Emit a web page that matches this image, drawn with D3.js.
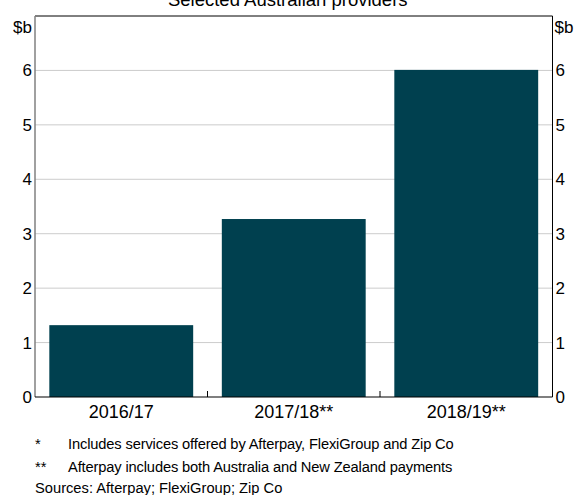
<!DOCTYPE html>
<html><head><meta charset="utf-8">
<script src="https://cdn.jsdelivr.net/npm/d3@7"></script>
<style>body{margin:0;background:#fff}svg{display:block;font-family:Arial,"Liberation Sans",sans-serif}</style>
</head><body>
<svg id="c" width="576" height="495"></svg>
<script>
const categories = ["2016/17", "2017/18**", "2018/19**"];
const values = [1.32, 3.27, 6.01];
const yTicks = [0, 1, 2, 3, 4, 5, 6];
const title = "Selected Australian providers";
const unit = "$b";
const notes = [
  ["*", "Includes services offered by Afterpay, FlexiGroup and Zip Co"],
  ["**", "Afterpay includes both Australia and New Zealand payments"]
];
const sources = "Sources: Afterpay; FlexiGroup; Zip Co";

const FONT = "Arial, 'Liberation Sans', sans-serif";
const svg = d3.select("#c");
const L = 35, R = 552.5, T = 16, B = 397;
const x = d3.scaleBand().domain(categories).range([L, R]).paddingInner(0.166).paddingOuter(0.083);
const xb = d3.scaleBand().domain(categories).range([L, R]);
const y = d3.scaleLinear().domain([0, 7]).range([B, T]);

// gridlines
svg.append("g").selectAll("line").data(yTicks.filter(d => d > 0)).join("line")
  .attr("x1", L).attr("x2", R).attr("y1", d => y(d)).attr("y2", d => y(d))
  .attr("stroke", "#cccccc").attr("stroke-width", 1);

// bars
svg.append("g").selectAll("rect").data(values).join("rect")
  .attr("x", (d, i) => x(categories[i])).attr("width", x.bandwidth())
  .attr("y", d => y(d)).attr("height", d => B - y(d)).attr("fill", "#00404f");

// frame
svg.append("line").attr("x1", L).attr("x2", R).attr("y1", T).attr("y2", T).attr("stroke", "#000");
svg.append("line").attr("x1", R).attr("x2", R).attr("y1", T).attr("y2", B).attr("stroke", "#000");
svg.append("line").attr("x1", L).attr("x2", L).attr("y1", T).attr("y2", B).attr("stroke", "#808080").attr("stroke-width", 1.5);

// y axes
const fmt = d3.format("d");
const yl = svg.append("g").attr("transform", `translate(${L},0)`)
  .call(d3.axisLeft(y).tickValues(yTicks).tickFormat(fmt).tickSize(0).tickPadding(3));
const yr = svg.append("g").attr("transform", `translate(${R},0)`)
  .call(d3.axisRight(y).tickValues(yTicks).tickFormat(fmt).tickSize(0).tickPadding(3));
[yl, yr].forEach(g => {
  g.attr("font-size", null).attr("font-family", null);
  g.select(".domain").remove();
  g.selectAll("text").attr("font-size", 17).attr("fill", "#000").attr("font-family", FONT);
});

// x axis
const xa = svg.append("g").attr("transform", `translate(0,${B})`)
  .call(d3.axisBottom(x).tickSize(0));
xa.attr("font-size", null).attr("font-family", null);
xa.select(".domain").remove();
xa.selectAll("text").attr("y", 21).attr("dy", null).attr("font-size", 18).attr("fill", "#000").attr("font-family", FONT);
svg.append("line").attr("x1", L).attr("x2", R).attr("y1", B).attr("y2", B).attr("stroke", "#000").attr("stroke-width", 1.2);
// category separator ticks
svg.append("g").selectAll("line").data(categories.slice(1)).join("line")
  .attr("x1", d => xb(d)).attr("x2", d => xb(d)).attr("y1", B).attr("y2", B - 6)
  .attr("stroke", "#000");

// unit labels
svg.append("text").attr("x", L - 3).attr("y", 33).attr("text-anchor", "end").attr("font-size", 17).text(unit);
svg.append("text").attr("x", R + 2).attr("y", 33).attr("text-anchor", "start").attr("font-size", 17).text(unit);

// title
svg.append("text").attr("x", (L + R) / 2 - 6).attr("y", 6).attr("text-anchor", "middle").attr("font-size", 18.5).text(title);

// notes
notes.forEach((n, i) => {
  const yy = 449 + i * 23;
  svg.append("text").attr("x", 35).attr("y", yy).attr("font-size", 14.7).text(n[0]);
  svg.append("text").attr("x", 68).attr("y", yy).attr("font-size", 14.7).attr("letter-spacing", -0.15).text(n[1]);
});
svg.append("text").attr("x", 35).attr("y", 493).attr("font-size", 14.7).text(sources);
</script>
</body></html>
